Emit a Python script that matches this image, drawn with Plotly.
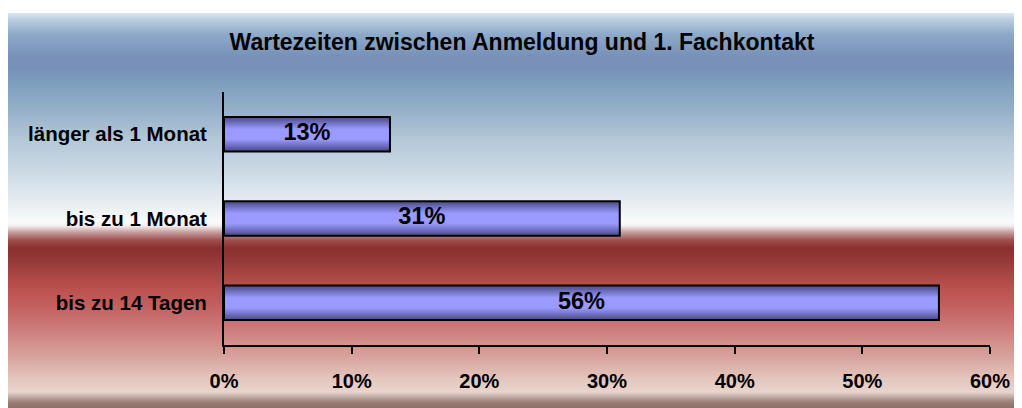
import plotly.graph_objects as go

# ---- data ----
categories = ["bis zu 14 Tagen", "bis zu 1 Monat", "länger als 1 Monat"]
shares = [0.56, 0.31, 0.13]
x_ticks = [0, 0.1, 0.2, 0.3, 0.4, 0.5, 0.6]
title_text = "Wartezeiten zwischen Anmeldung und 1. Fachkontakt"

# ---- layout geometry (pixels); page body adds an 8px offset ----
OFF = 8
W, H = 1022 - OFF, 408 - OFF
L, R, T, B = 224 - OFF, 29, 92 - OFF, 63
PW = W - L - R
PH = H - T - B
FONT = "Liberation Sans, Arial, sans-serif"


def hex2rgb(h):
    h = h.lstrip("#")
    return tuple(int(h[i:i + 2], 16) for i in (0, 2, 4))


def lerp(c1, c2, t):
    return tuple(round(a + (b - a) * t) for a, b in zip(c1, c2))


def color_at(stops, v):
    for (p0, c0), (p1, c1) in zip(stops, stops[1:]):
        if p0 <= v <= p1:
            t = 0 if p1 == p0 else (v - p0) / (p1 - p0)
            return lerp(hex2rgb(c0), hex2rgb(c1), t)
    return hex2rgb(stops[-1][1])


# background gradient stops (screen pixel row, colour)
bg_stops = [
    (13, "#dce8f2"), (20, "#b8cce0"), (35, "#8ca8c8"), (55, "#7a92b8"),
    (68, "#7890b8"), (85, "#80a0c0"), (110, "#94b0c8"), (140, "#b4c8d8"),
    (170, "#cad8e4"), (200, "#e4ecf2"), (222, "#fafafa"), (226, "#f4eeee"),
    (232, "#c8a0a0"), (240, "#a05050"), (248, "#8a3030"), (260, "#923a38"),
    (285, "#b84e4c"), (300, "#c05a58"), (320, "#c87070"), (340, "#d08c88"),
    (360, "#d8a8a0"), (380, "#e4c8c0"), (392, "#e8d4cc"), (397, "#c0aaa4"),
    (402, "#9a8078"), (408, "#8c7068"),
]


def px_x(px):
    return (px - OFF - L) / PW


def px_y(py):
    return (H - B - (py - OFF)) / PH


shapes = []
for row in range(13, 408):
    c = color_at(bg_stops, row + 0.5)
    shapes.append(dict(
        type="rect", xref="paper", yref="paper", layer="below",
        x0=px_x(OFF - 1), x1=px_x(1022 + 4), y0=px_y(row + 1.05), y1=px_y(row),
        fillcolor="rgb(%d,%d,%d)" % c, line=dict(width=0),
    ))

fig = go.Figure()

# bars drawn as stacked overlay layers to imitate the vertical shading
bar_w = 0.41
n_layers = 18
dark = "#4c4c8a"
light = "#9a9aff"
for k in range(n_layers):
    d = 1 - k / n_layers  # relative half-height of this layer
    if d <= 0.32:
        t = 1.0
    else:
        t = (1 - d) / (1 - 0.32)
    c = lerp(hex2rgb(dark), hex2rgb(light), t)
    fig.add_trace(go.Bar(
        x=shares, y=categories, orientation="h", width=bar_w * d,
        marker=dict(color="rgb(%d,%d,%d)" % c, line=dict(width=0)),
        hoverinfo="skip", showlegend=False,
    ))

# outline
fig.add_trace(go.Bar(
    x=shares, y=categories, orientation="h", width=bar_w,
    marker=dict(color="rgba(0,0,0,0)", line=dict(color="black", width=2)),
    hoverinfo="skip", showlegend=False,
))

# value labels centred in the bars
fig.add_trace(go.Scatter(
    x=[v / 2 for v in shares], y=categories, mode="text",
    text=[f"{round(v * 100)}%" for v in shares],
    textposition="middle center",
    textfont=dict(family=FONT, size=23.5, color="black", weight="bold"),
    hoverinfo="skip", showlegend=False,
))

fig.update_layout(
    width=W, height=H,
    margin=dict(l=L, r=R, t=T, b=B, pad=0),
    paper_bgcolor="white",
    plot_bgcolor="rgba(0,0,0,0)",
    barmode="overlay",
    shapes=shapes,
    title=dict(
        text=title_text, xref="container", yref="container",
        x=(522 - OFF) / W, y=1 - (42 - OFF) / H, xanchor="center", yanchor="middle",
        font=dict(family=FONT, size=23, color="black", weight="bold"),
    ),
    xaxis=dict(
        range=[0, 0.6], tickvals=x_ticks, tickformat=".0%",
        showgrid=False, zeroline=False,
        showline=True, linecolor="black", linewidth=2,
        ticks="outside", ticklen=7, tickwidth=2, tickcolor="black",
        ticklabelstandoff=10,
        tickfont=dict(family=FONT, size=20, color="black", weight="bold"),
        fixedrange=True,
    ),
    yaxis=dict(
        type="category", categoryorder="array", categoryarray=categories,
        range=[-0.5, 2.5],
        showgrid=False, zeroline=False,
        showline=True, linecolor="black", linewidth=2,
        ticks="", ticklabelstandoff=11,
        tickfont=dict(family=FONT, size=20.5, color="black", weight="bold"),
        fixedrange=True,
    ),
)

fig.write_html("out.html")
